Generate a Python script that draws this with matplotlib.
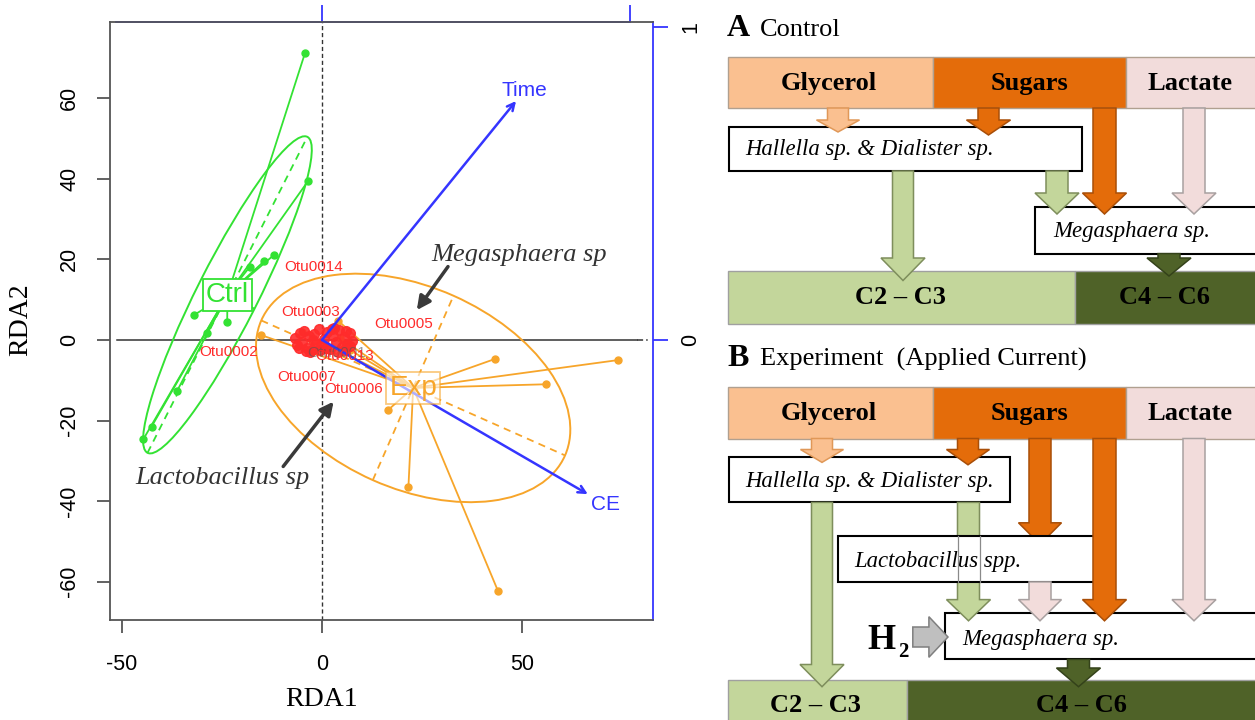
import numpy as np
import matplotlib
matplotlib.use("Agg")
import matplotlib.pyplot as plt
from matplotlib.patches import Ellipse, Rectangle, Polygon, FancyArrowPatch

plt.rcParams['font.family'] = ['Liberation Sans', 'DejaVu Sans']
plt.rcParams['axes.unicode_minus'] = False
SERIF = 'Liberation Serif'

# ---------------- RDA ordination data ----------------
# site scores, control reactor
ctrl_x = [-4.25, -3.5, -12.0, -14.4, -18.0, -32.0, -23.7, -28.7, -36.2, -42.6, -44.7]
ctrl_y = [71.2, 39.4, 21.1, 19.6, 18.2, 6.2, 4.5, 1.7, -12.6, -21.5, -24.7]
# site scores, experiment reactor (applied current)
exp_x = [44.0, 21.6, 16.5, 43.3, 74.0, 56.1, 4.0, -15.2, 4.4, -5.0, 7.0]
exp_y = [-62.3, -36.6, -17.4, -4.7, -5.0, -11.0, 4.8, 1.2, 0.5, 2.0, -2.5]

# species (OTU) scores
otu_x = [-6.8, -6.2, -5.5, -5.0, -4.4, -3.8, -3.2, -2.6, -2.0, -1.4,
         -0.8, -0.2, 0.6, 1.3, 2.0, 2.8, 3.5, 4.2, 4.9, 5.6,
         6.3, 7.0, 7.6, -5.8, -4.0, -2.2, -0.5, 1.0, 2.5, 4.0,
         5.5, 7.0, -3.0, 3.0, 6.0]
otu_y = [0.5, -1.2, 1.8, -0.4, 2.3, -1.9, 0.9, -2.6, 1.5, -0.8,
         2.6, -1.5, 0.3, 2.0, -2.2, 1.1, -0.6, 2.4, -1.8, 0.7,
         -1.0, 1.6, -0.2, -2.0, -2.8, -0.1, -2.4, -1.9, 2.7, -2.9,
         -2.5, -1.5, -3.0, 2.9, 2.2]
otu_names = ['Otu0014', 'Otu0003', 'Otu0005', 'Otu0002', 'Otu0013', 'Otu0007', 'Otu0006']
otu_lab_x = [-2.2, -2.8, 20.5, -23.3, 5.75, -3.8, 7.95]
otu_lab_y = [18.2, 7.0, 4.0, -3.1, -4.0, -9.1, -12.2]

# biplot scores of the constraining variables
env_names = ['Time', 'CE']
env_rda1 = [0.630, 0.863]
env_rda2 = [0.770, -0.497]
env_mul = 77.0
env_lab_scale = [1.045, 1.065]

# group dispersion ellipses: semi-major, semi-minor, orientation (deg)
ctrl_ell = (44.0, 7.6, 63.0)
exp_ell = (41.5, 25.0, -23.8)

GREEN = '#33e233'
ORANGE = '#f7a52a'
RED = '#ff2b2b'
BLUE = '#3535ff'

fig = plt.figure(figsize=(12.55, 7.2), dpi=100)
W, H = 1255.0, 720.0
ax = fig.add_axes([110 / W, 100 / H, 543 / W, 598 / H])
ax.set_xlim(-53, 82.75)
ax.set_ylim(-69.5, 78.9)

for s in ['left', 'bottom', 'top']:
    ax.spines[s].set_color('#555555')
    ax.spines[s].set_linewidth(1.3)
ax.spines['right'].set_visible(False)

ax.set_xticks([-50, 0, 50])
ax.set_yticks([-60, -40, -20, 0, 20, 40, 60])
ax.tick_params(axis='both', direction='out', length=9.5, width=1.3,
               color='#555555', labelsize=15.5)
ax.tick_params(axis='x', pad=15)
ax.tick_params(axis='y', pad=12, labelrotation=90)
for t in ax.get_yticklabels():
    t.set_va('center')

ax.set_xlabel('RDA1', fontsize=20, family=SERIF)
ax.xaxis.set_label_coords((322 - 110) / 543, (620 - 700) / 598)
ax.xaxis.label.set_va('center')
ax.set_ylabel('RDA2', fontsize=20, family=SERIF)
ax.yaxis.set_label_coords((21 - 110) / 543, (620 - 320) / 598)
ax.yaxis.label.set_va('center')

# secondary (biplot) axes in blue
sec_x = ax.secondary_xaxis('top', functions=(lambda v: v / env_mul, lambda v: v * env_mul))
sec_x.set_xticks([0, 1])
sec_x.tick_params(axis='x', direction='out', length=12.5, width=1.3, color=BLUE, labeltop=False)
sec_x.spines['top'].set_color(BLUE)
sec_x.spines['top'].set_linewidth(1.3)
sec_x.spines['top'].set_bounds(-0.67, 1.0)

mul_y = env_mul * 598 / 148.4 / (543 / 135.75)
sec_y = ax.secondary_yaxis('right', functions=(lambda v: v / mul_y, lambda v: v * mul_y))
sec_y.set_yticks([0, 1])
sec_y.tick_params(axis='y', direction='out', length=10.5, width=1.3, color=BLUE,
                  labelsize=15.5, pad=9, labelrotation=90)
for t in sec_y.get_yticklabels():
    t.set_va('center')
sec_y.spines['right'].set_color(BLUE)
sec_y.spines['right'].set_linewidth(1.3)

# zero reference lines
ax.axhline(0, xmin=0.013, xmax=0.97, color='#333333', lw=1.1, zorder=1)
ax.axhline(0, xmin=0.97, xmax=0.995, color='#333333', lw=1.1, ls=(0, (4, 2, 1, 2)), zorder=1)
ax.axvline(0, color='#333333', lw=1.0, ls=(0, (3, 2)), zorder=1)


def group(xs, ys, ell, col):
    xs = np.asarray(xs)
    ys = np.asarray(ys)
    cx, cy = xs.mean(), ys.mean()
    a, b, ang = ell
    th = np.deg2rad(ang)
    ax.add_patch(Ellipse((cx, cy), 2 * a, 2 * b, angle=ang, fill=False,
                         ec=col, lw=1.4, zorder=2))
    ux, uy = np.cos(th), np.sin(th)
    ax.plot([cx - a * ux, cx + a * ux], [cy - a * uy, cy + a * uy],
            color=col, lw=1.3, ls=(0, (4, 3)), zorder=2)
    ax.plot([cx + b * uy, cx - b * uy], [cy - b * ux, cy + b * ux],
            color=col, lw=1.3, ls=(0, (4, 3)), zorder=2)
    for x, y in zip(xs, ys):
        ax.plot([cx, x], [cy, y], color=col, lw=1.3, zorder=3)
    ax.plot(xs, ys, 'o', color=col, ms=5, zorder=4)
    return cx, cy


ctrl_c = group(ctrl_x, ctrl_y, ctrl_ell, GREEN)
exp_c = group(exp_x, exp_y, exp_ell, ORANGE)

# OTU scores
ax.plot(otu_x, otu_y, 'o', color=RED, ms=7, alpha=0.9, zorder=5)

# environmental vectors
for name, e1, e2, ls in zip(env_names, env_rda1, env_rda2, env_lab_scale):
    tip = (e1 * env_mul, e2 * env_mul)
    ax.add_patch(FancyArrowPatch((0, 0), tip, arrowstyle='->', mutation_scale=13,
                                 color=BLUE, lw=1.8, zorder=6, shrinkA=0, shrinkB=0))
    ax.text(tip[0] * ls, tip[1] * ls, name, color=BLUE, fontsize=15,
            ha='center', va='center', zorder=7)

# group labels at centroids
ax.text(ctrl_c[0], ctrl_c[1], 'Ctrl', color=GREEN, fontsize=20, ha='center', va='center',
        zorder=8, bbox=dict(boxstyle='square,pad=0.12', fc='white', ec=GREEN, lw=1.3))
ax.text(exp_c[0], exp_c[1], 'Exp', color=ORANGE, fontsize=20, ha='center', va='center',
        zorder=8, bbox=dict(boxstyle='square,pad=0.12', fc='white', ec=ORANGE, lw=1.3, alpha=0.6))

# OTU labels
for name, x, y in zip(otu_names, otu_lab_x, otu_lab_y):
    ax.text(x, y, name, color=RED, fontsize=11, ha='center', va='center', zorder=7)
ax.text(3.6, -3.2, 'Otu0001', color='#555555', fontsize=11, ha='center', va='center',
        alpha=0.6, zorder=6)

# taxon annotations
ax.annotate('', xy=(23.7, 7.4), xytext=(31.5, 18.2),
            arrowprops=dict(arrowstyle='-|>', color='#3a3a3a', lw=2.5, mutation_scale=20,
                            shrinkA=0, shrinkB=0), zorder=8)
ax.text(49.25, 21.2, 'Megasphaera sp', family=SERIF, style='italic', fontsize=19,
        color='#333333', ha='center', va='center', zorder=8)
ax.annotate('', xy=(2.9, -15.3), xytext=(-9.7, -31.4),
            arrowprops=dict(arrowstyle='-|>', color='#3a3a3a', lw=2.5, mutation_scale=20,
                            shrinkA=0, shrinkB=0), zorder=8)
ax.text(-25.0, -34.3, 'Lactobacillus sp', family=SERIF, style='italic', fontsize=19,
        color='#333333', ha='center', va='center', zorder=8)

# ---------------- metabolic pathway diagrams ----------------
dg = fig.add_axes([715 / W, 0, 540 / W, 1])
dg.set_xlim(715, 1255)
dg.set_ylim(720, 0)
dg.axis('off')
dg.patch.set_alpha(0)

C_GLY = '#FAC090'
C_SUG = '#E46C0A'
C_LAC = '#F2DCDB'
C_LG = '#C3D69B'
C_DG = '#4F6228'
E_GLY = '#E09858'
E_SUG = '#A84E08'
E_LAC = '#A8A0A0'
E_LG = '#7E8E5C'
E_DG = '#34421A'


def box(x0, x1, y0, y1, fc, ec, lw=1.0, z=1):
    dg.add_patch(Rectangle((x0, y0), x1 - x0, y1 - y0, fc=fc, ec=ec, lw=lw, zorder=z))


def down_arrow(cx, y0, yh, y1, sw, hw, fc, ec, z=3):
    pts = [(cx - sw, y0), (cx + sw, y0), (cx + sw, yh), (cx + hw, yh),
           (cx, y1), (cx - hw, yh), (cx - sw, yh)]
    dg.add_patch(Polygon(pts, closed=True, fc=fc, ec=ec, lw=1.1, zorder=z))


def label(x, y, s, size=19, weight='bold', style='normal', ha='center', va='center', color='black'):
    dg.text(x, y, s, family=SERIF, fontsize=size, fontweight=weight, style=style,
            ha=ha, va=va, color=color, zorder=10)


ITAL = 16.4


def substrates(y0, y1):
    box(727.5, 933, y0, y1, C_GLY, '#B0A090')
    box(933, 1126, y0, y1, C_SUG, '#B0A090')
    box(1126, 1262, y0, y1, C_LAC, '#B0A090')
    yc = (y0 + y1) / 2 + 1
    label(829, yc, 'Glycerol')
    label(1029, yc, 'Sugars')
    label(1190, yc, 'Lactate')


# panel A: control
label(727, 36, 'A', size=23, ha='left', va='baseline')
label(760, 36, 'Control', size=19, weight='normal', ha='left', va='baseline')
substrates(57, 108)
box(729, 1082, 127, 171, 'white', 'black', lw=1.5)
label(745, 150, 'Hallella sp. & Dialister sp.', size=ITAL, weight='normal', style='italic', ha='left')
box(1034.7, 1262, 206.5, 253.6, 'white', 'black', lw=1.5)
label(1053, 231, 'Megasphaera sp.', size=ITAL, weight='normal', style='italic', ha='left')
box(727.5, 1075, 271, 324, C_LG, '#A0A0A0')
box(1075, 1262, 271, 324, C_DG, '#A0A0A0')
label(900, 298, 'C2 – C3')
label(1164, 298, 'C4 – C6')

down_arrow(838, 108, 120, 132, 10.5, 21.5, C_GLY, E_GLY)
down_arrow(988.5, 108, 120, 135, 10.5, 22, C_SUG, E_SUG)
down_arrow(1104.5, 108, 193, 214, 11.5, 22, C_SUG, E_SUG)
down_arrow(1194, 108, 193, 214, 11, 22, C_LAC, E_LAC)
down_arrow(903, 171, 258, 280.5, 10.5, 22, C_LG, E_LG)
down_arrow(1057, 171, 193, 214, 11, 22, C_LG, E_LG)
down_arrow(1169, 253.6, 258, 276, 11, 22, C_DG, E_DG)

# panel B: experiment with applied current
label(727, 366, 'B', size=23, ha='left', va='baseline')
label(760, 366, 'Experiment  (Applied Current)', size=19, weight='normal', ha='left', va='baseline')
substrates(387.3, 438.5)
box(729, 1010, 457, 502.4, 'white', 'black', lw=1.5)
label(745, 482, 'Hallella sp. & Dialister sp.', size=ITAL, weight='normal', style='italic', ha='left')
box(945.3, 1262, 613.3, 659.4, 'white', 'black', lw=1.5)
label(962, 639, 'Megasphaera sp.', size=ITAL, weight='normal', style='italic', ha='left')
box(727.5, 907, 679.8, 725, C_LG, '#A0A0A0')
box(907, 1262, 679.8, 725, C_DG, '#A0A0A0')
label(815.6, 705, 'C2 – C3')
label(1081, 705, 'C4 – C6')

down_arrow(822, 438.5, 449.5, 462.4, 10.5, 21.5, C_GLY, E_GLY)
down_arrow(968, 438.5, 449.5, 464.8, 10.5, 21.5, C_SUG, E_SUG)
down_arrow(1040, 438.5, 522.8, 544.3, 11, 21.5, C_SUG, E_SUG)
down_arrow(1194, 438.5, 599.6, 620.8, 11, 22, C_LAC, E_LAC)
down_arrow(822, 502.4, 664.5, 686.7, 10.5, 22, C_LG, E_LG)
down_arrow(968.5, 502.4, 599.6, 620.8, 11, 22, C_LG, E_LG)
down_arrow(1078.5, 659.4, 668, 686.7, 11, 22, C_DG, E_DG)

# Lactobacillus box sits over the Hallella -> Megasphaera flux
box(837.7, 1110, 535.8, 581.9, 'white', 'black', lw=1.5, z=4)
for xe in (968.5 - 11, 968.5 + 11):
    dg.plot([xe, xe], [535.8, 581.9], color='#8A8A8A', lw=0.9, zorder=5)
label(853.8, 561.4, 'Lactobacillus spp.', size=ITAL, weight='normal', style='italic', ha='left')
down_arrow(1040, 581.9, 599.6, 620.8, 11, 21.5, C_LAC, E_LAC, z=5)
down_arrow(1104.5, 438.5, 599.6, 620.8, 11.5, 22, C_SUG, E_SUG, z=5)

# hydrogen input
h_pts = [(912.8, 627), (928.9, 627), (928.9, 616.7), (948, 637),
         (928.9, 657.3), (928.9, 647), (912.8, 647)]
dg.add_patch(Polygon(h_pts, closed=True, fc='#BFBFBF', ec='#7F7F7F', lw=1.1, zorder=5))
label(867, 649, 'H', size=26, ha='left', va='baseline')
label(898.5, 657, '2', size=15, ha='left', va='baseline')

fig.savefig('out.png', dpi=100)
